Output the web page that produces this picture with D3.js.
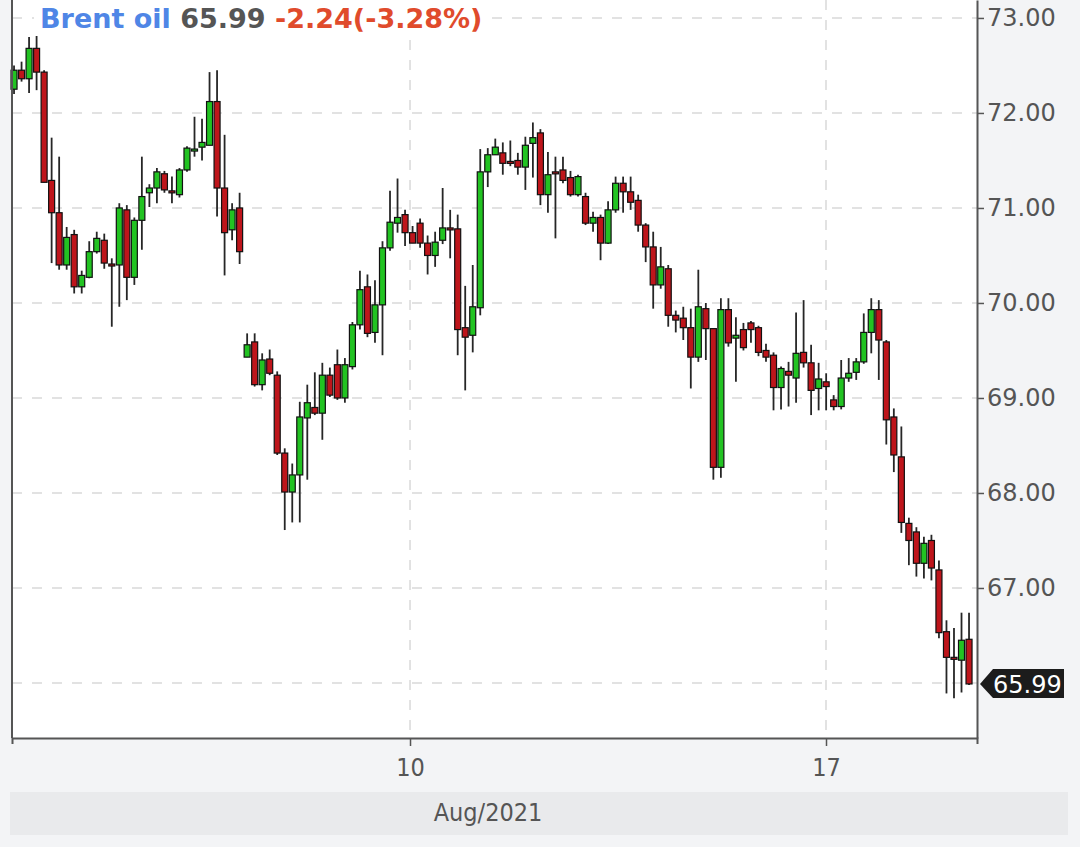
<!DOCTYPE html>
<html>
<head>
<meta charset="utf-8">
<script src="https://cdn.jsdelivr.net/npm/d3@7"></script>
<style>
	body { margin: 0; background: #f3f4f6; }
	svg { display: block; }
</style>
</head>
<body>
<svg width="1080" height="847"></svg>
<script>
// 2h candles, Brent oil, early-mid August 2021
const opens = [
	72.25, 72.45, 72.36, 72.68, 72.43, 71.29, 70.95, 70.40, 70.72, 70.17,
	70.27, 70.54, 70.66, 70.41, 70.40, 70.98, 70.27, 70.87, 71.16, 71.21,
	71.36, 71.18, 71.14, 71.40, 71.62, 71.64, 71.66, 72.12, 71.21, 70.77,
	71.00, 69.43, 69.59, 69.14, 69.41, 69.24, 68.42, 68.01, 68.19, 68.79,
	68.90, 68.84, 69.24, 69.35, 69.00, 69.33, 69.77, 70.17, 69.69, 69.98,
	70.58, 70.84, 70.93, 70.74, 70.84, 70.63, 70.50, 70.66, 70.79, 70.78,
	69.74, 69.66, 69.95, 71.38, 71.56, 71.58, 71.49, 71.50, 71.43, 71.68,
	71.79, 71.14, 71.38, 71.40, 71.32, 71.14, 71.12, 70.84, 70.90, 70.63,
	70.98, 71.26, 71.17, 71.08, 70.82, 70.59, 70.19, 70.36, 69.87, 69.84,
	69.74, 69.43, 69.94, 69.73, 68.27, 69.93, 69.63, 69.72, 69.79, 69.74,
	69.50, 69.45, 69.11, 69.28, 69.21, 69.48, 69.37, 69.10, 69.17, 68.98,
	68.91, 69.21, 69.27, 69.38, 69.69, 69.93, 69.59, 68.80, 68.38, 67.68,
	67.59, 67.26, 67.50, 67.19, 66.54, 66.27, 66.24, 66.46
];
const highs = [
	72.50, 72.54, 72.80, 72.84, 72.45, 71.74, 71.54, 70.80, 70.77, 70.34,
	70.65, 70.75, 70.73, 70.47, 71.05, 71.03, 70.90, 71.54, 71.25, 71.42,
	71.39, 71.33, 71.42, 71.65, 71.96, 71.94, 72.43, 72.45, 71.77, 71.05,
	71.16, 69.68, 69.68, 69.47, 69.51, 69.28, 68.47, 68.31, 68.96, 69.14,
	69.27, 69.37, 69.32, 69.51, 69.42, 69.80, 70.34, 70.30, 70.24, 70.65,
	71.18, 71.31, 70.98, 70.81, 70.89, 70.71, 70.75, 71.21, 70.98, 70.93,
	70.18, 70.40, 71.62, 71.63, 71.73, 71.69, 71.71, 71.58, 71.75, 71.90,
	71.83, 71.59, 71.54, 71.54, 71.39, 71.35, 71.16, 70.96, 70.93, 71.07,
	71.33, 71.33, 71.33, 71.14, 70.84, 70.75, 70.59, 70.40, 69.92, 69.96,
	69.94, 70.35, 70.00, 69.73, 70.05, 70.05, 69.85, 69.79, 69.81, 69.76,
	69.57, 69.48, 69.33, 69.38, 69.90, 70.03, 69.56, 69.37, 69.26, 69.03,
	69.40, 69.42, 69.42, 69.89, 70.05, 70.03, 69.61, 68.89, 68.70, 67.74,
	67.64, 67.54, 67.56, 67.29, 66.66, 66.58, 66.74, 66.74
];
const lows = [
	72.20, 72.33, 72.21, 72.24, 71.27, 70.42, 70.35, 70.35, 70.10, 70.10,
	70.26, 70.52, 70.36, 69.75, 69.96, 70.03, 70.19, 70.56, 71.01, 71.05,
	71.16, 71.05, 71.11, 71.38, 71.54, 71.50, 71.66, 70.91, 70.29, 70.66,
	70.41, 69.43, 69.12, 69.08, 69.24, 68.40, 67.61, 67.69, 67.69, 68.14,
	68.82, 68.56, 69.01, 68.98, 68.95, 69.30, 69.72, 69.64, 69.58, 69.45,
	70.55, 70.74, 70.60, 70.63, 70.58, 70.30, 70.38, 70.62, 70.47, 69.45,
	69.08, 69.48, 69.87, 71.22, 71.56, 71.35, 71.44, 71.35, 71.19, 71.32,
	71.03, 70.95, 70.68, 71.26, 71.12, 71.12, 70.82, 70.75, 70.45, 70.62,
	70.95, 70.95, 70.98, 70.75, 70.43, 69.94, 70.15, 69.75, 69.69, 69.61,
	69.10, 69.38, 69.40, 68.14, 68.16, 69.54, 69.17, 69.50, 69.58, 69.44,
	69.38, 68.87, 68.88, 68.91, 68.95, 69.32, 68.82, 68.87, 68.87, 68.87,
	68.88, 69.17, 69.19, 69.36, 69.47, 69.19, 68.51, 68.22, 67.58, 67.24,
	67.12, 67.10, 67.08, 66.47, 65.89, 65.84, 65.90, 65.98
];
const closes = [
	72.45, 72.36, 72.68, 72.43, 71.27, 70.95, 70.40, 70.69, 70.17, 70.29,
	70.54, 70.68, 70.42, 70.40, 71.00, 70.27, 70.87, 71.12, 71.21, 71.38,
	71.19, 71.17, 71.40, 71.63, 71.62, 71.69, 72.12, 71.21, 70.74, 70.98,
	70.54, 69.56, 69.14, 69.40, 69.26, 68.42, 68.01, 68.19, 68.80, 68.95,
	68.84, 69.24, 69.03, 69.00, 69.35, 69.77, 70.14, 69.68, 69.98, 70.58,
	70.85, 70.90, 70.74, 70.63, 70.63, 70.50, 70.64, 70.79, 70.78, 69.72,
	69.64, 69.96, 71.38, 71.56, 71.64, 71.47, 71.48, 71.43, 71.66, 71.74,
	71.14, 71.35, 71.37, 71.29, 71.14, 71.33, 70.84, 70.90, 70.63, 70.98,
	71.26, 71.17, 71.06, 70.82, 70.59, 70.19, 70.38, 69.87, 69.82, 69.74,
	69.43, 69.96, 69.73, 68.27, 69.93, 69.58, 69.66, 69.53, 69.72, 69.48,
	69.43, 69.11, 69.31, 69.24, 69.47, 69.37, 69.08, 69.20, 69.12, 68.91,
	69.21, 69.26, 69.38, 69.69, 69.93, 69.61, 68.77, 68.40, 67.69, 67.50,
	67.26, 67.47, 67.21, 66.53, 66.27, 66.26, 66.45, 65.99
];

const gridTicks = [66, 67, 68, 69, 70, 71, 72, 73];
const yTickLabels = [67, 68, 69, 70, 71, 72, 73]; // 66 is hidden by the price flag
const xTickPos = [52.66, 107.98]; // candle index where the day label sits
const xTickLabels = ["10", "17"];
const lastPrice = 65.99;
const titleParts = [
	{ text: "Brent oil", color: "#4f86e6" },
	{ text: " 65.99", color: "#555555" },
	{ text: " -2.24(-3.28%)", color: "#e04b2c" },
];
const monthLabel = "Aug/2021";

const svg = d3.select("svg");
const plotLeft = 12,
	plotRight = 977,
	plotTop = 0,
	plotBottom = 738;

const x = d3.scaleLinear().domain([-0.27, 128.06]).range([plotLeft, plotRight]);
const y = d3.scaleLinear().domain([65.421, 73.189]).range([plotBottom, plotTop]);

// plot background
svg.append("rect")
	.attr("x", plotLeft)
	.attr("y", plotTop)
	.attr("width", plotRight - plotLeft)
	.attr("height", plotBottom - plotTop)
	.attr("fill", "#fff");

// month band
svg.append("rect")
	.attr("x", 10)
	.attr("y", 792)
	.attr("width", 1058)
	.attr("height", 43)
	.attr("fill", "#e9eaec");
svg.append("text")
	.attr("x", 488)
	.attr("y", 821)
	.attr("text-anchor", "middle")
	.attr("font-family", "DejaVu Sans Condensed")
	.attr("font-size", "25px")
	.attr("fill", "#555")
	.text(monthLabel);

// grid
const grid = svg.append("g")
	.attr("stroke", "#d9d9d9")
	.attr("stroke-width", 1.5)
	.attr("stroke-dasharray", "10,10");
grid.selectAll(".hg")
	.data(gridTicks)
	.join("line")
	.attr("x1", plotLeft)
	.attr("x2", plotRight)
	.attr("y1", (d) => y(d))
	.attr("y2", (d) => y(d));
grid.selectAll(".vg")
	.data(xTickPos)
	.join("line")
	.attr("x1", (d) => x(d))
	.attr("x2", (d) => x(d))
	.attr("y1", plotTop)
	.attr("y2", plotBottom);

// candles
const idx = d3.range(opens.length);
const candles = svg.append("g").selectAll("g").data(idx).join("g");
candles.append("line")
	.attr("x1", (i) => x(i))
	.attr("x2", (i) => x(i))
	.attr("y1", (i) => y(highs[i]))
	.attr("y2", (i) => y(lows[i]))
	.attr("stroke", "#262626")
	.attr("stroke-width", 1.8);
candles.append("rect")
	.attr("x", (i) => x(i) - 3)
	.attr("width", 6)
	.attr("y", (i) => y(Math.max(opens[i], closes[i])))
	.attr("height", (i) => Math.max(2, Math.abs(y(opens[i]) - y(closes[i]))))
	.attr("fill", (i) => (closes[i] >= opens[i] ? "#22c322" : "#be151b"))
	.attr("stroke", "#111")
	.attr("stroke-width", 1.2);

// title
const title = svg.append("g");
title.append("rect")
	.attr("x", 34)
	.attr("y", 0)
	.attr("width", 458)
	.attr("height", 36)
	.attr("fill", "#fff");
const tt = title.append("text")
	.attr("x", 40)
	.attr("y", 28)
	.style("white-space", "pre")
	.attr("font-family", "DejaVu Sans")
	.attr("font-weight", "bold")
	.attr("font-size", "27px");
titleParts.forEach((p) => {
	tt.append("tspan").attr("fill", p.color).text(p.text);
});

// left frame
svg.append("line")
	.attr("x1", plotLeft)
	.attr("x2", plotLeft)
	.attr("y1", plotTop)
	.attr("y2", plotBottom)
	.attr("stroke", "#555")
	.attr("stroke-width", 2);

// axes
const xAxis = svg.append("g")
	.attr("transform", "translate(0," + plotBottom + ")")
	.call(
		d3.axisBottom(x)
			.tickValues(xTickPos)
			.tickFormat((d, i) => xTickLabels[i])
			.tickSize(8)
			.tickSizeOuter(6)
	);
xAxis.select(".domain").attr("stroke", "#555").attr("stroke-width", 2);
xAxis.selectAll(".tick line").attr("stroke", "#555").attr("stroke-width", 1.5);
xAxis.selectAll(".tick text")
	.attr("y", 38)
	.attr("dy", 0)
	.attr("font-family", "DejaVu Sans Condensed")
	.attr("font-size", "25px")
	.attr("fill", "#555");

const yAxis = svg.append("g")
	.attr("transform", "translate(" + plotRight + ",0)")
	.call(
		d3.axisRight(y)
			.tickValues(yTickLabels)
			.tickFormat(d3.format(".2f"))
			.tickSize(7)
			.tickSizeOuter(0)
	);
yAxis.select(".domain").attr("stroke", "#555").attr("stroke-width", 2);
yAxis.selectAll(".tick line").attr("stroke", "#555").attr("stroke-width", 1.5);
yAxis.selectAll(".tick text")
	.attr("x", 10)
	.attr("font-family", "DejaVu Sans")
	.attr("font-size", "24px")
	.attr("fill", "#555");

// last price flag
const ly = y(lastPrice);
svg.append("path")
	.attr("d", `M980,${ly} L993,${ly - 15} L1064,${ly - 15} L1064,${ly + 14} L993,${ly + 14} Z`)
	.attr("fill", "#1c1c1c");
svg.append("text")
	.attr("x", 993)
	.attr("y", ly + 9)
	.attr("font-family", "DejaVu Sans")
	.attr("font-size", "24px")
	.attr("fill", "#fff")
	.text(lastPrice.toFixed(2));
</script>
</body>
</html>
